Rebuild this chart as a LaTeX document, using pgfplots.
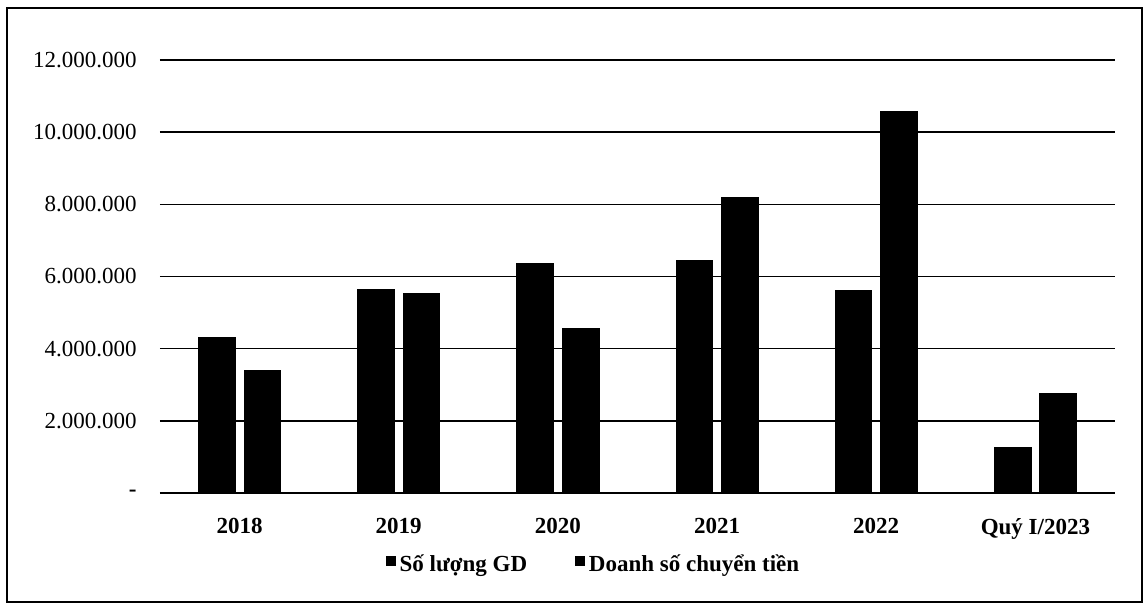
\documentclass[border=0pt]{standalone}
\usepackage{fontspec}
\setmainfont{Liberation Serif}
\usepackage{pgfplots}
\pgfplotsset{compat=1.18}
\begin{document}
\begin{tikzpicture}
\useasboundingbox (0,0) rectangle (573pt,-306pt);
\draw[line width=0.7pt] (3.5pt,-4pt) rectangle (571pt,-301pt);
\begin{axis}[
  scale only axis,
  width=477.5pt, height=216.5pt,
  at={(80pt,-246.5pt)}, anchor=south west,
  xmin=-0.5, xmax=5.5, ymin=0, ymax=12000000,
  scaled y ticks=false,
  axis line style={draw=none},
  major tick length=0pt,
  ytick={0,2000000,4000000,6000000,8000000,10000000,12000000},
  yticklabels={\textbf{-}\hspace{4.5pt},2.000.000,4.000.000,6.000.000,8.000.000,10.000.000,12.000.000},
  yticklabel style={font=\fontsize{11.5}{13}\selectfont, anchor=east, inner sep=0pt, xshift=-11.5pt},
  ymajorgrids, grid style={black, line width=0.8pt},
  xtick={0,1,2,3,4,5},
  xticklabels={2018,2019,2020,2021,2022,Quý I/2023},
  xticklabel style={font=\bfseries\fontsize{11.5}{13}\selectfont, anchor=north, inner sep=0pt, yshift=-12.5pt},
  ybar, bar width=0.23,
  legend columns=2,
  legend style={at={(0.455,-0.166)}, anchor=center, draw=none, fill=none,
    font=\bfseries\fontsize{11.5}{13}\selectfont,
    /tikz/every even column/.append style={column sep=22pt}},
  legend image code/.code={\fill[black] (0pt,-0.5pt) rectangle (4.5pt,4pt);},
]
\addplot[fill=black, draw=black, bar shift=-0.143] coordinates {
  (0,4300000) (1,5650000) (2,6360000) (3,6450000) (4,5620000) (5,1260000)};
\addlegendentry{Số lượng GD}
\addplot[fill=black, draw=black, bar shift=0.143] coordinates {
  (0,3400000) (1,5520000) (2,4570000) (3,8190000) (4,10570000) (5,2760000)};
\addlegendentry{Doanh số chuyển tiền}
\end{axis}
\end{tikzpicture}
\end{document}
